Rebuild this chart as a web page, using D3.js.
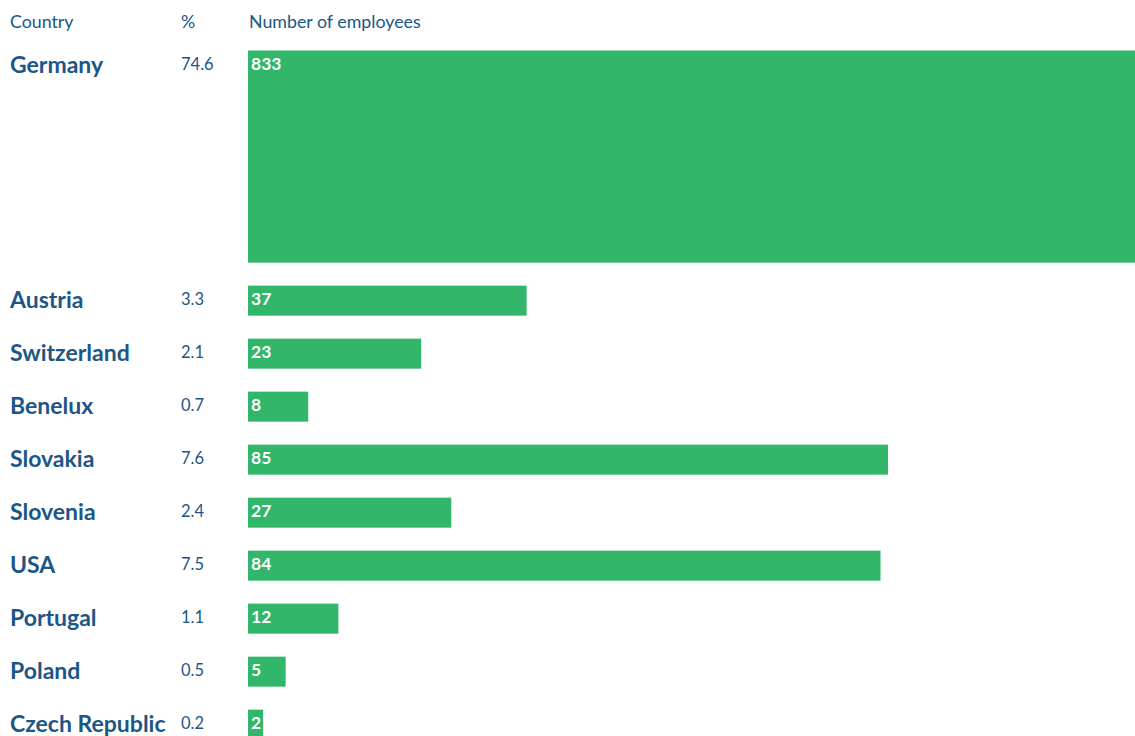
<!DOCTYPE html>
<html><head><meta charset="utf-8">
<script src="https://cdn.jsdelivr.net/npm/d3@7"></script>
<style>body{margin:0;background:#fff}svg{display:block}</style>
</head><body><svg id="c" width="1135" height="736"></svg>
<script>
const countries = ["Germany","Austria","Switzerland","Benelux","Slovakia","Slovenia","USA","Portugal","Poland","Czech Republic"];
const percents = ["74.6","3.3","2.1","0.7","7.6","2.4","7.5","1.1","0.5","0.2"];
const employees = [833,37,23,8,85,27,84,12,5,2];
const headers = ["Country","%","Number of employees"];

const W = 1135, H = 736;
const blue = "#1b5686", green = "#31b66a";
const barX = 248, barMaxW = W - barX, bh = 30, gap = 23, top0 = 50.5;
const x = d3.scaleLinear().domain([0, 100]).range([0, 753]);
const svg = d3.select("#c");

// layout: area-preserving bars when width exceeds available space
let yCur = top0;
const rows = countries.map((c, i) => {
  const fullW = x(employees[i]);
  const w = Math.min(fullW, barMaxW);
  const h = bh * fullW / w;
  const r = {c, p: percents[i], v: employees[i], y: yCur, w, h};
  yCur += h + gap;
  return r;
});

const font = "Lato, 'Open Sans', sans-serif";
svg.selectAll("text.hdr").data(headers).join("text")
  .attr("class","hdr")
  .attr("x", (d,i) => [10,181,249][i]).attr("y", 28)
  .attr("font-family", font).attr("font-size", 17.8).attr("fill", blue)
  .text(d => d);

const g = svg.selectAll("g.row").data(rows).join("g").attr("class","row")
  .attr("transform", d => `translate(0,${d.y})`);

g.append("rect").attr("x", barX).attr("y", 0)
  .attr("width", d => d.w).attr("height", d => d.h).attr("fill", green);

g.append("text").attr("x", 10).attr("y", 14.5).attr("dy","0.36em")
  .attr("font-family", font).attr("font-weight", 700).attr("font-size", 23)
  .attr("fill", blue).text(d => d.c);

g.append("text").attr("x", 181).attr("y", 13.5).attr("dy","0.36em")
  .attr("font-family", font).attr("font-size", 16.5)
  .attr("fill", blue).text(d => d.p);

g.append("text").attr("x", barX + 3).attr("y", 13.5).attr("dy","0.36em")
  .attr("font-family", font).attr("font-weight", 700).attr("font-size", 17.5)
  .attr("fill", "#fff").text(d => d.v);
</script></body></html>
